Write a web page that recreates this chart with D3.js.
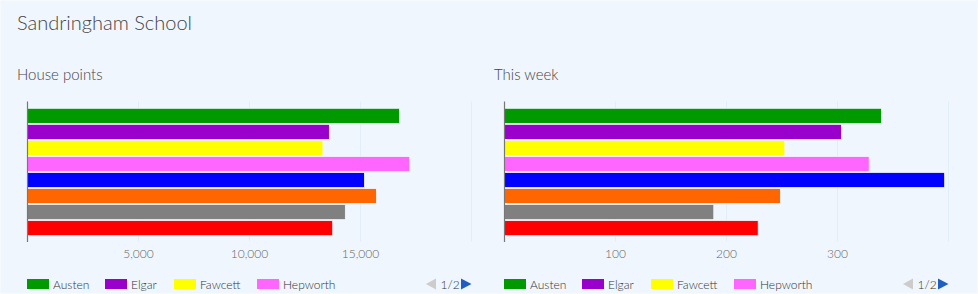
<!DOCTYPE html>
<html><head><meta charset="utf-8">
<script src="https://cdn.jsdelivr.net/npm/d3@7"></script>
<style>
html,body{margin:0;padding:0;background:#eff6fe;}
svg{display:block;}
text{font-family:Lato,"Open Sans",sans-serif;}
</style></head>
<body>
<svg id="c" width="978" height="294"></svg>
<script>
const houses = ["Austen","Elgar","Fawcett","Hepworth","Nightingale","Shakespeare","Turner","Woolf"];
const colors = ["#009900","#9900cc","#ffff00","#ff66ff","#0000ff","#ff6600","#808080","#ff0000"];
const housePoints = [16780,13620,13330,17240,15200,15740,14340,13770];
const thisWeek = [340,304,253,329,397,249,189,229];
const ticksLeft = [5000,10000,15000];
const ticksRight = [100,200,300];
const legendShown = houses.slice(0,4);

const svg = d3.select("#c");
svg.append("rect").attr("x",0.5).attr("y",0.5).attr("width",977).attr("height",293)
  .attr("fill","#eff6fe").attr("stroke","#f6faff");
svg.append("text").attr("x",17).attr("y",30).attr("font-size",20).attr("font-weight",300)
  .attr("fill","#444").text("Sandringham School");

function panel(x0, title, values, dmax, ticks, fmt){
  const g = svg.append("g");
  g.append("text").attr("x",x0-10).attr("y",80).attr("font-size",15).attr("font-weight",300)
    .attr("fill","#444").text(title);
  const x = d3.scaleLinear().domain([0,dmax]).range([x0, x0+444]);
  const y = d3.scaleBand().domain(houses).range([108.3,235.7]).paddingInner(0.06).paddingOuter(0);
  g.selectAll("line.grid").data(ticks.concat([dmax])).enter().append("line")
    .attr("x1",d=>Math.round(x(d))+0.5).attr("x2",d=>Math.round(x(d))+0.5)
    .attr("y1",101.5).attr("y2",241.5).attr("stroke","#e0eefc").attr("stroke-width",1);
  g.selectAll("rect.bar").data(values).enter().append("rect")
    .attr("x",x(0)).attr("y",(d,i)=>y(houses[i]))
    .attr("width",d=>x(d)-x(0)).attr("height",y.bandwidth())
    .attr("fill",(d,i)=>colors[i]).attr("stroke","#f4f8fd").attr("stroke-width",0.8);
  g.append("line").attr("x1",x0+0.5).attr("x2",x0+0.5).attr("y1",101.5).attr("y2",242)
    .attr("stroke","#777").attr("stroke-width",1.2);
  const ax = g.append("g").attr("transform","translate(0,241.5)")
    .call(d3.axisBottom(x).tickValues(ticks).tickFormat(fmt).tickSize(0).tickPadding(8));
  ax.select(".domain").remove();
  ax.selectAll("text").attr("font-size",12).attr("fill","#666").attr("font-weight",300)
    .attr("font-family","Lato,sans-serif");
  const offs = [0,78,147,230];
  const lg = g.append("g");
  legendShown.forEach((h,i)=>{
    lg.append("rect").attr("x",x0+offs[i]).attr("y",279).attr("width",22).attr("height",10)
      .attr("fill",colors[i]);
    lg.append("text").attr("x",x0+offs[i]+26).attr("y",288.5).attr("font-size",12)
      .attr("font-weight",300).attr("fill","#333").text(h);
  });
  const px = x0+399;
  lg.append("path").attr("d",`M${px} 284 L${px+10} 278.5 L${px+10} 289.5 Z`).attr("fill","#cccccc");
  lg.append("text").attr("x",px+14.5).attr("y",288.5).attr("font-size",12).attr("font-weight",300)
    .attr("fill","#333").text("1/2");
  lg.append("path").attr("d",`M${px+35} 278.5 L${px+45.5} 284 L${px+35} 289.5 Z`).attr("fill","#1f5fbf");
}
panel(27, "House points", housePoints, 20000, ticksLeft, d3.format(","));
panel(504, "This week", thisWeek, 400, ticksRight, d3.format(","));
</script>
</body></html>
